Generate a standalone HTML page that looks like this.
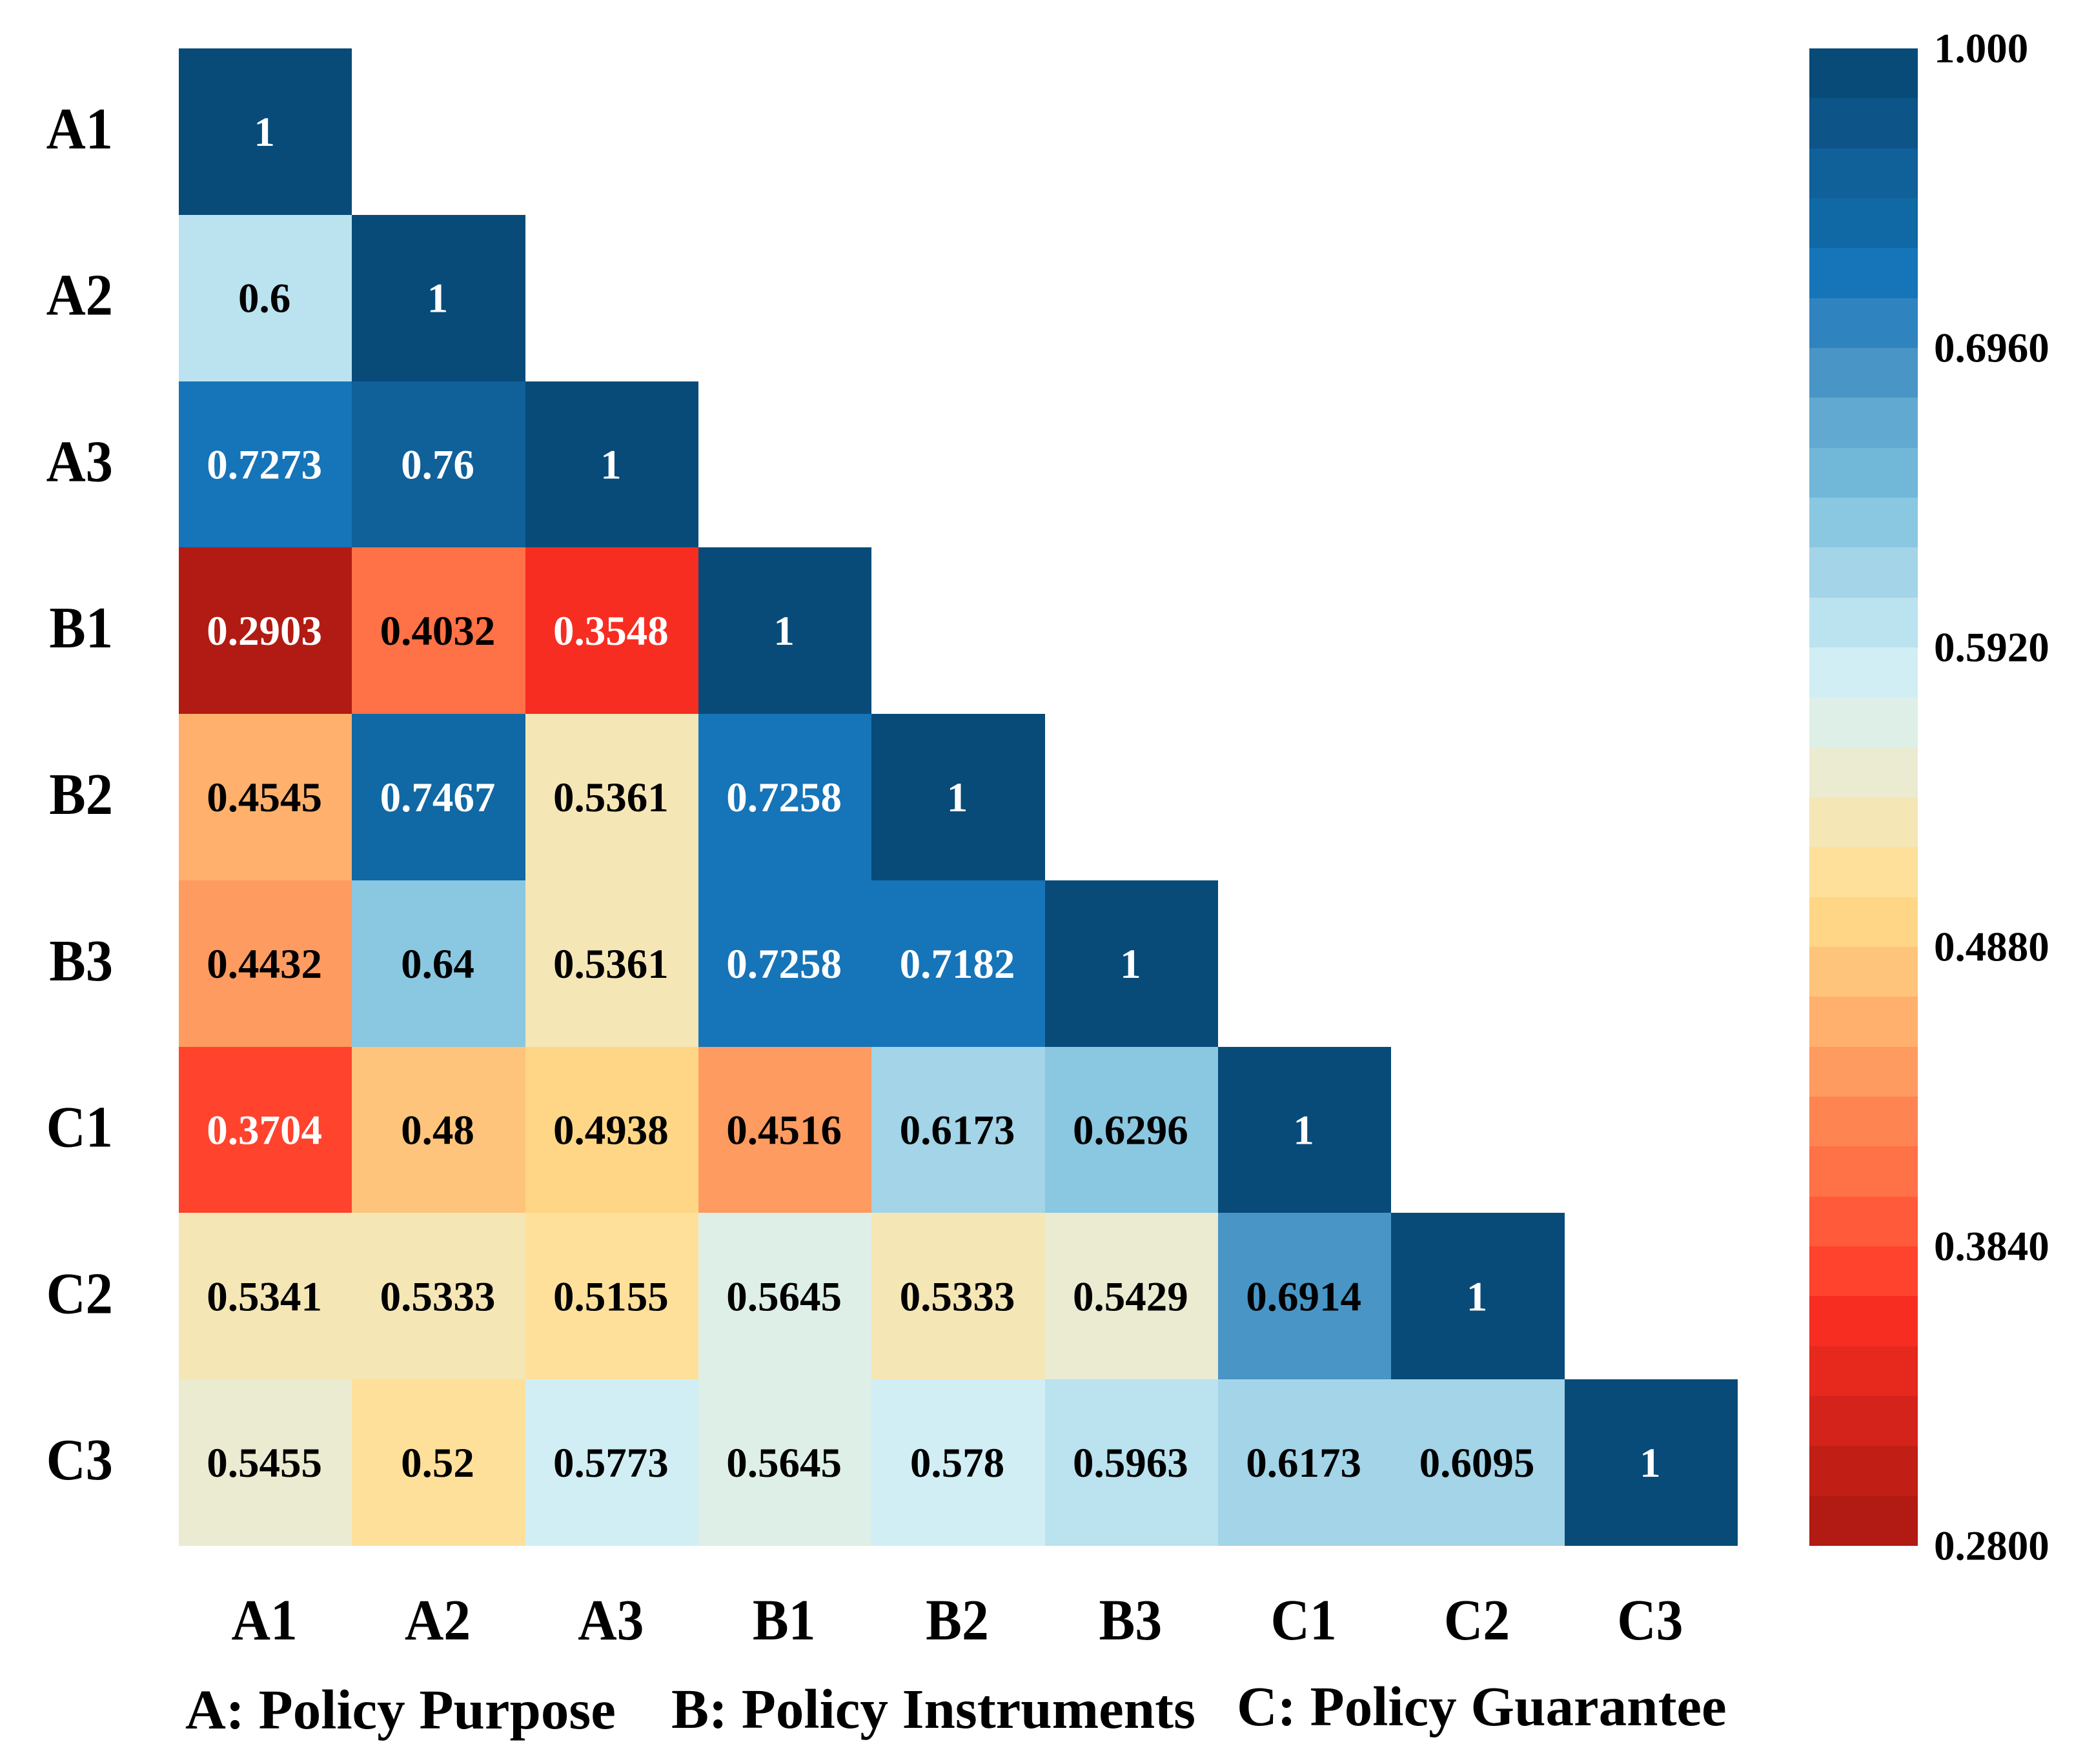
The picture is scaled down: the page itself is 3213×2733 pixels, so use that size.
<!DOCTYPE html>
<html lang="en">
<head>
<meta charset="utf-8">
<title>Policy correlation heatmap</title>
<style>
html,body{margin:0;padding:0;background:#fff;}
svg{display:block;}
text{font-family:"Liberation Serif",serif;font-weight:bold;}
</style>
</head>
<body>
<svg id="chart" xmlns="http://www.w3.org/2000/svg" width="3213" height="2733" viewBox="0 0 3213 2733">
<rect x="0" y="0" width="3213" height="2733" fill="#fff"/>
<g id="cells" shape-rendering="crispEdges"></g>
<g id="cell-text"></g>
<g id="y-axis"></g>
<g id="x-axis"></g>
<g id="colorbar" shape-rendering="crispEdges"></g>
<g id="colorbar-ticks"></g>
<text x="287" y="2678" font-size="87" fill="#000">A: Policy Purpose</text>
<text x="1040" y="2677" font-size="87" fill="#000">B: Policy Instruments</text>
<text x="1916" y="2673" font-size="87" fill="#000">C: Policy Guarantee</text>
</svg>
<script>
const categories = ['A1','A2','A3','B1','B2','B3','C1','C2','C3'];
const rowA1 = [1];
const rowA2 = [0.6,1];
const rowA3 = [0.7273,0.76,1];
const rowB1 = [0.2903,0.4032,0.3548,1];
const rowB2 = [0.4545,0.7467,0.5361,0.7258,1];
const rowB3 = [0.4432,0.64,0.5361,0.7258,0.7182,1];
const rowC1 = [0.3704,0.48,0.4938,0.4516,0.6173,0.6296,1];
const rowC2 = [0.5341,0.5333,0.5155,0.5645,0.5333,0.5429,0.6914,1];
const rowC3 = [0.5455,0.52,0.5773,0.5645,0.578,0.5963,0.6173,0.6095,1];
const matrix = [rowA1,rowA2,rowA3,rowB1,rowB2,rowB3,rowC1,rowC2,rowC3];
const tickValues = [1,0.696,0.592,0.488,0.384,0.28];
const tickLabels = ['1.000','0.6960','0.5920','0.4880','0.3840','0.2800'];
const palette = ['#B21B13','#C11F16','#D4231A','#E6281D','#F72D22','#FF432D','#FF5B3B','#FF7146','#FE8451','#FE9B60','#FEB06C','#FEC47B','#FED685','#FEE09A','#F5E6B6','#EBEBD1','#DEEFE8','#D1EEF5','#BAE2EF','#A3D4E7','#8AC7E1','#71B7D7','#61A9D1','#4895C6','#2F84BF','#1674B8','#1068A4','#10609A','#0D5488','#084B79'];
const binEdges = [0.28,0.2973,0.3147,0.332,0.3493,0.3667,0.384,0.4013,0.4187,0.436,0.4533,0.4707,0.488,0.5053,0.5227,0.54,0.5573,0.5747,0.592,0.6093,0.6267,0.644,0.6613,0.6787,0.696,0.712,0.74,0.75,0.8,0.9];

const NS = 'http://www.w3.org/2000/svg';
const plotLeft = 277, plotRight = 2692, plotTop = 75, plotBottom = 2395;
const barLeft = 2803, barRight = 2971;
const labelSqueeze = 0.93;
const xScale = function(i){ return plotLeft + (plotRight - plotLeft) * i / categories.length; };
const yScale = function(i){ return plotTop + (plotBottom - plotTop) * i / categories.length; };
const binScale = function(i){ return plotBottom - (plotBottom - plotTop) * i / palette.length; };
const binIndex = function(v){
  let idx = 0;
  for (let k = 0; k < binEdges.length; k++) { if (v >= binEdges[k]) idx = k; }
  return idx;
};
const tickY = function(v){ return binScale(binIndex(v + 1e-9) + (v >= 1 ? 1 : 0)); };
const textColor = function(v){ return (v > 0.7 || v < 0.38) ? '#fff' : '#000'; };
const make = function(tag, attrs, parent, content){
  const el = document.createElementNS(NS, tag);
  Object.keys(attrs).forEach(function(k){ el.setAttribute(k, attrs[k]); });
  if (content !== undefined) el.textContent = content;
  parent.appendChild(el);
  return el;
};

const cellsG = document.getElementById('cells');
const cellTextG = document.getElementById('cell-text');
matrix.forEach(function(row, r){
  row.forEach(function(v, c){
    const x0 = Math.round(xScale(c)), x1 = Math.round(xScale(c + 1));
    const y0 = Math.round(yScale(r)), y1 = Math.round(yScale(r + 1));
    const cell = make('rect', {x:x0, y:y0, width:x1 - x0, height:y1 - y0, fill:palette[binIndex(v)]}, cellsG);
    
    
    const label = make('text', {x:(xScale(c) + xScale(c + 1)) / 2 - 1.5, y:(yScale(r) + yScale(r + 1)) / 2 + 22, 'text-anchor':'middle', 'font-size':65, fill:textColor(v)}, cellTextG, String(v));
    
    
  });
});

const yAxisG = document.getElementById('y-axis');
const xAxisG = document.getElementById('x-axis');
categories.forEach(function(name, i){
  const yy = (yScale(i) + yScale(i + 1)) / 2 + 26;
  const yl = make('text', {transform:'translate(175 ' + yy + ') scale(' + labelSqueeze + ' 1)', 'text-anchor':'end', 'font-size':91, fill:'#000'}, yAxisG, name);
  
  
  const xx = (xScale(i) + xScale(i + 1)) / 2 - 1.5;
  const xl = make('text', {transform:'translate(' + xx + ' 2540) scale(' + labelSqueeze + ' 1)', 'text-anchor':'middle', 'font-size':90, fill:'#000'}, xAxisG, name);
  
  
});

const barG = document.getElementById('colorbar');
palette.forEach(function(color, i){
  const y1 = Math.round(binScale(i)), y0 = Math.round(binScale(i + 1));
  const seg = make('rect', {x:barLeft, y:y0, width:barRight - barLeft, height:y1 - y0, fill:color}, barG);
  
  
});

const barTicksG = document.getElementById('colorbar-ticks');
tickValues.forEach(function(v, i){
  const t = make('text', {x:2996, y:tickY(v) + 21.5, 'font-size':65, fill:'#000'}, barTicksG, tickLabels[i]);
  
  
});
</script>
</body>
</html>
